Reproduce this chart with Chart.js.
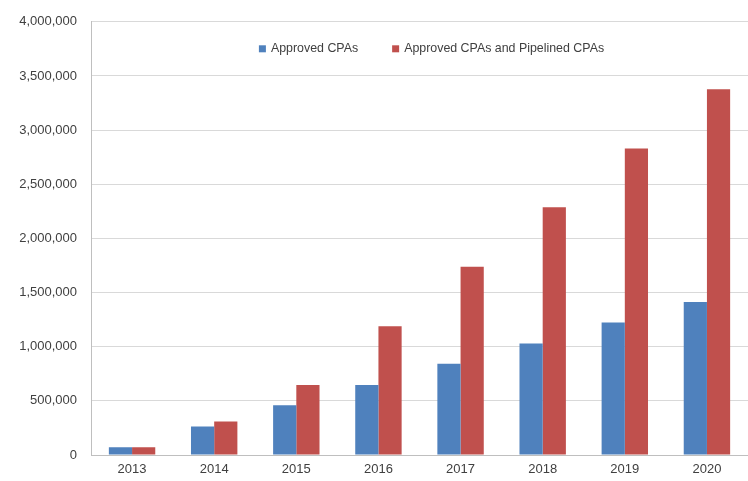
<!DOCTYPE html>
<html>
<head>
<meta charset="utf-8">
<script src="https://cdn.jsdelivr.net/npm/chart.js@4/dist/chart.umd.min.js"></script>
<style>
  html, body { margin: 0; padding: 0; background: #fff; }
  #wrap { width: 748px; height: 481px; position: relative; }
</style>
</head>
<body>
<div id="wrap"><canvas id="chart"></canvas></div>
<script>
/* -------- Data -------- */
const years = ["2013", "2014", "2015", "2016", "2017", "2018", "2019", "2020"];
const approved = [71000, 264000, 460000, 646000, 843000, 1030000, 1223000, 1413000];
const approvedPipelined = [71000, 310000, 647000, 1189000, 1738000, 2287000, 2829000, 3378000];
const yTicks = { min: 0, max: 4000000, step: 500000 };

const fontFam = "'Liberation Sans', Arial, sans-serif";
const textCol = "#404040";

/* -------- Legend drawn inside the plot area (Excel style) -------- */
const insideLegend = {
  id: "insideLegend",
  afterDraw(chart) {
    const { ctx, chartArea } = chart;
    const font = "12.4px " + fontFam;
    const box = 7, boxGap = 5, itemGap = 34;
    ctx.save();
    ctx.font = font;
    const items = chart.data.datasets.map(ds => ({
      text: ds.label, color: ds.backgroundColor, w: ctx.measureText(ds.label).width
    }));
    const total = items.reduce((s, it) => s + box + boxGap + it.w, 0) + itemGap * (items.length - 1);
    let x = (chartArea.left + chartArea.right) / 2 + 12 - total / 2;
    const y = chartArea.top + 27;
    ctx.textBaseline = "middle";
    ctx.textAlign = "left";
    for (const it of items) {
      ctx.fillStyle = it.color;
      ctx.fillRect(x, y - box / 2, box, box);
      x += box + boxGap;
      ctx.fillStyle = textCol;
      ctx.fillText(it.text, x, y);
      x += it.w + itemGap;
    }
    ctx.restore();
  }
};

new Chart(document.getElementById("chart"), {
  type: "bar",
  data: {
    labels: years,
    datasets: [
      { label: "Approved CPAs", data: approved, backgroundColor: "#4F81BD" },
      { label: "Approved CPAs and Pipelined CPAs", data: approvedPipelined, backgroundColor: "#C0504D" }
    ]
  },
  options: {
    responsive: true,
    maintainAspectRatio: false,
    animation: false,
    datasets: { bar: { categoryPercentage: 0.565, barPercentage: 1 } },
    layout: { padding: { top: 20, left: 0, right: 0, bottom: 0 } },
    plugins: {
      tooltip: { enabled: false },
      legend: { display: false }
    },
    scales: {
      x: {
        grid: { display: false, drawTicks: false },
        border: { color: "#bfbfbf" },
        ticks: { color: textCol, font: { family: fontFam, size: 13 }, padding: 7 },
        afterFit: s => { s.height = 26; }
      },
      y: {
        min: yTicks.min, max: yTicks.max,
        grid: { color: "#d9d9d9", drawTicks: false },
        border: { color: "#bfbfbf" },
        ticks: {
          stepSize: yTicks.step,
          color: textCol,
          font: { family: fontFam, size: 13 },
          padding: 14,
          callback: v => v.toLocaleString("en-US")
        },
        afterFit: s => { s.width = 91; }
      }
    }
  },
  plugins: [insideLegend]
});
</script>
</body>
</html>
